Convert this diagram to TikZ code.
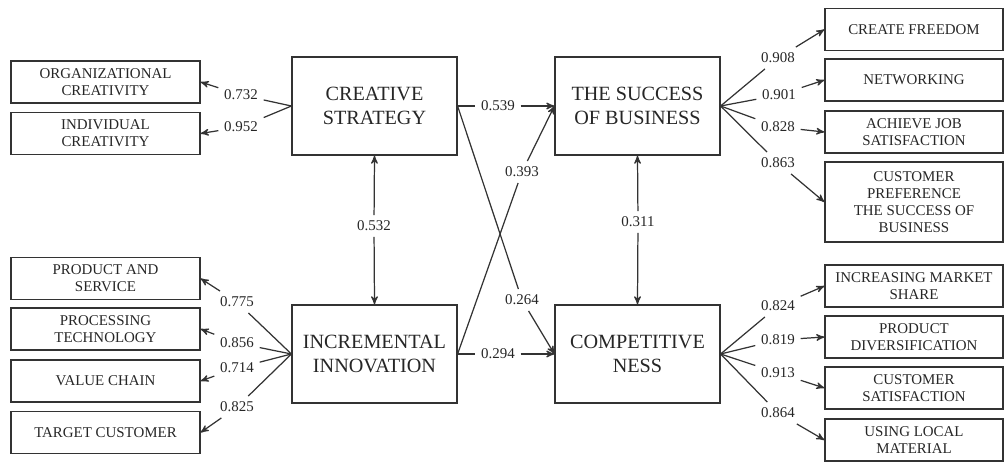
\documentclass[tikz,border=0pt]{standalone}
\usepackage{fontspec}
\setmainfont{Liberation Serif}
\usetikzlibrary{shapes, arrows, calc, positioning}
\newcommand{\smallsize}{\fontsize{8.5}{9.8}\selectfont}
\newcommand{\bigsize}{\fontsize{11.5}{14}\selectfont}

\begin{document}
\begin{tikzpicture}[x=0.02cm,y=-0.02cm,>=stealth',line width=0.7pt,
    every node/.style={font=\smallsize,text=black!85},
    itembox/.style={draw=black!80,align=center,inner sep=0pt,minimum height=0.84cm},
    lbox/.style={itembox,minimum width=3.78cm},
    rbox/.style={itembox,minimum width=3.56cm},
    factor/.style={draw=black!80,align=center,minimum width=3.3cm,minimum height=1.96cm,font=\bigsize},
    coef/.style={inner sep=3pt}]
    \useasboundingbox (0,0) rectangle (1005,467);

    % latent factors
    \node[factor] (CS) at (374.5,106) {CREATIVE\\STRATEGY};
    \node[factor] (SB) at (637.5,106) {THE SUCCESS\\OF BUSINESS};
    \node[factor] (II) at (374.5,354) {INCREMENTAL\\INNOVATION};
    \node[factor] (CO) at (637.5,354) {COMPETITIVE\\NESS};

    % indicators, left
    \node[lbox] (OC) at (105.5,82) {ORGANIZATIONAL\\CREATIVITY};
    \node[lbox] (IC) at (105.5,133.5) {INDIVIDUAL\\CREATIVITY};
    \node[lbox] (PS) at (105.5,278.5) {PRODUCT AND\\SERVICE};
    \node[lbox] (PT) at (105.5,329) {PROCESSING\\TECHNOLOGY};
    \node[lbox] (VC) at (105.5,381) {VALUE CHAIN};
    \node[lbox] (TC) at (105.5,432.5) {TARGET CUSTOMER};

    % indicators, right
    \node[rbox] (CF) at (914,29.5) {CREATE FREEDOM};
    \node[rbox] (NW) at (914,80) {NETWORKING};
    \node[rbox] (JS) at (914,132) {ACHIEVE JOB\\SATISFACTION};
    \node[rbox,minimum height=1.6cm] (CP) at (914,202) {CUSTOMER\\PREFERENCE\\THE SUCCESS OF\\BUSINESS};
    \node[rbox] (MS) at (914,286) {INCREASING MARKET\\SHARE};
    \node[rbox] (PD) at (914,337) {PRODUCT\\DIVERSIFICATION};
    \node[rbox] (CU) at (914,388) {CUSTOMER\\SATISFACTION};
    \node[rbox] (LM) at (914,440) {USING LOCAL\\MATERIAL};

    % loadings
    \node[coef] (c732) at (241,95) {0.732};
    \node[coef] (c952) at (241,127) {0.952};
    \node[coef] (c775) at (237,302) {0.775};
    \node[coef] (c856) at (237,343) {0.856};
    \node[coef] (c714) at (237,368) {0.714};
    \node[coef] (c825) at (237,407) {0.825};
    \node[coef] (c908) at (778,58) {0.908};
    \node[coef] (c901) at (779,95) {0.901};
    \node[coef] (c828) at (778,127) {0.828};
    \node[coef] (c863) at (778,163) {0.863};
    \node[coef] (c824) at (778,306) {0.824};
    \node[coef] (c819) at (778,340) {0.819};
    \node[coef] (c913) at (778,373) {0.913};
    \node[coef] (c864) at (778,413) {0.864};

    % path coefficients
    \node[coef] (c539) at (498,106) {0.539};
    \node[coef] (c294) at (498,354) {0.294};
    \node[coef] (c532) at (374,226) {0.532};
    \node[coef] (c311) at (638,222) {0.311};
    \node[coef] (c393) at (522,172) {0.393};
    \node[coef] (c264) at (522,300) {0.264};

    \begin{scope}[draw=black!80]
    \foreach \f/\c/\i in {CS/c732/OC, CS/c952/IC,
                          II/c775/PS, II/c856/PT, II/c714/VC, II/c825/TC} {
        \draw (\f.west) -- (\c);
        \draw[->] (\c) -- (\i.east);
    }
    \foreach \f/\c/\i in {SB/c908/CF, SB/c901/NW, SB/c828/JS, SB/c863/CP,
                          CO/c824/MS, CO/c819/PD, CO/c913/CU, CO/c864/LM} {
        \draw (\f.east) -- (\c);
        \draw[->] (\c) -- (\i.west);
    }

    \draw (CS.east) -- (c539);
    \draw[->] (c539) -- (SB.west);
    \draw (II.east) -- (c294);
    \draw[->] (c294) -- (CO.west);
    \draw (CS.east) -- (c264);
    \draw[->] (c264) -- (CO.west);
    \draw (II.east) -- (c393);
    \draw[->] (c393) -- (SB.west);

    \draw[<-] (CS.south) -- (c532);
    \draw[->] (c532) -- (II.north);
    \draw[<-] (SB.south) -- (c311);
    \draw[->] (c311) -- (CO.north);
    \end{scope}
\end{tikzpicture}
\end{document}
